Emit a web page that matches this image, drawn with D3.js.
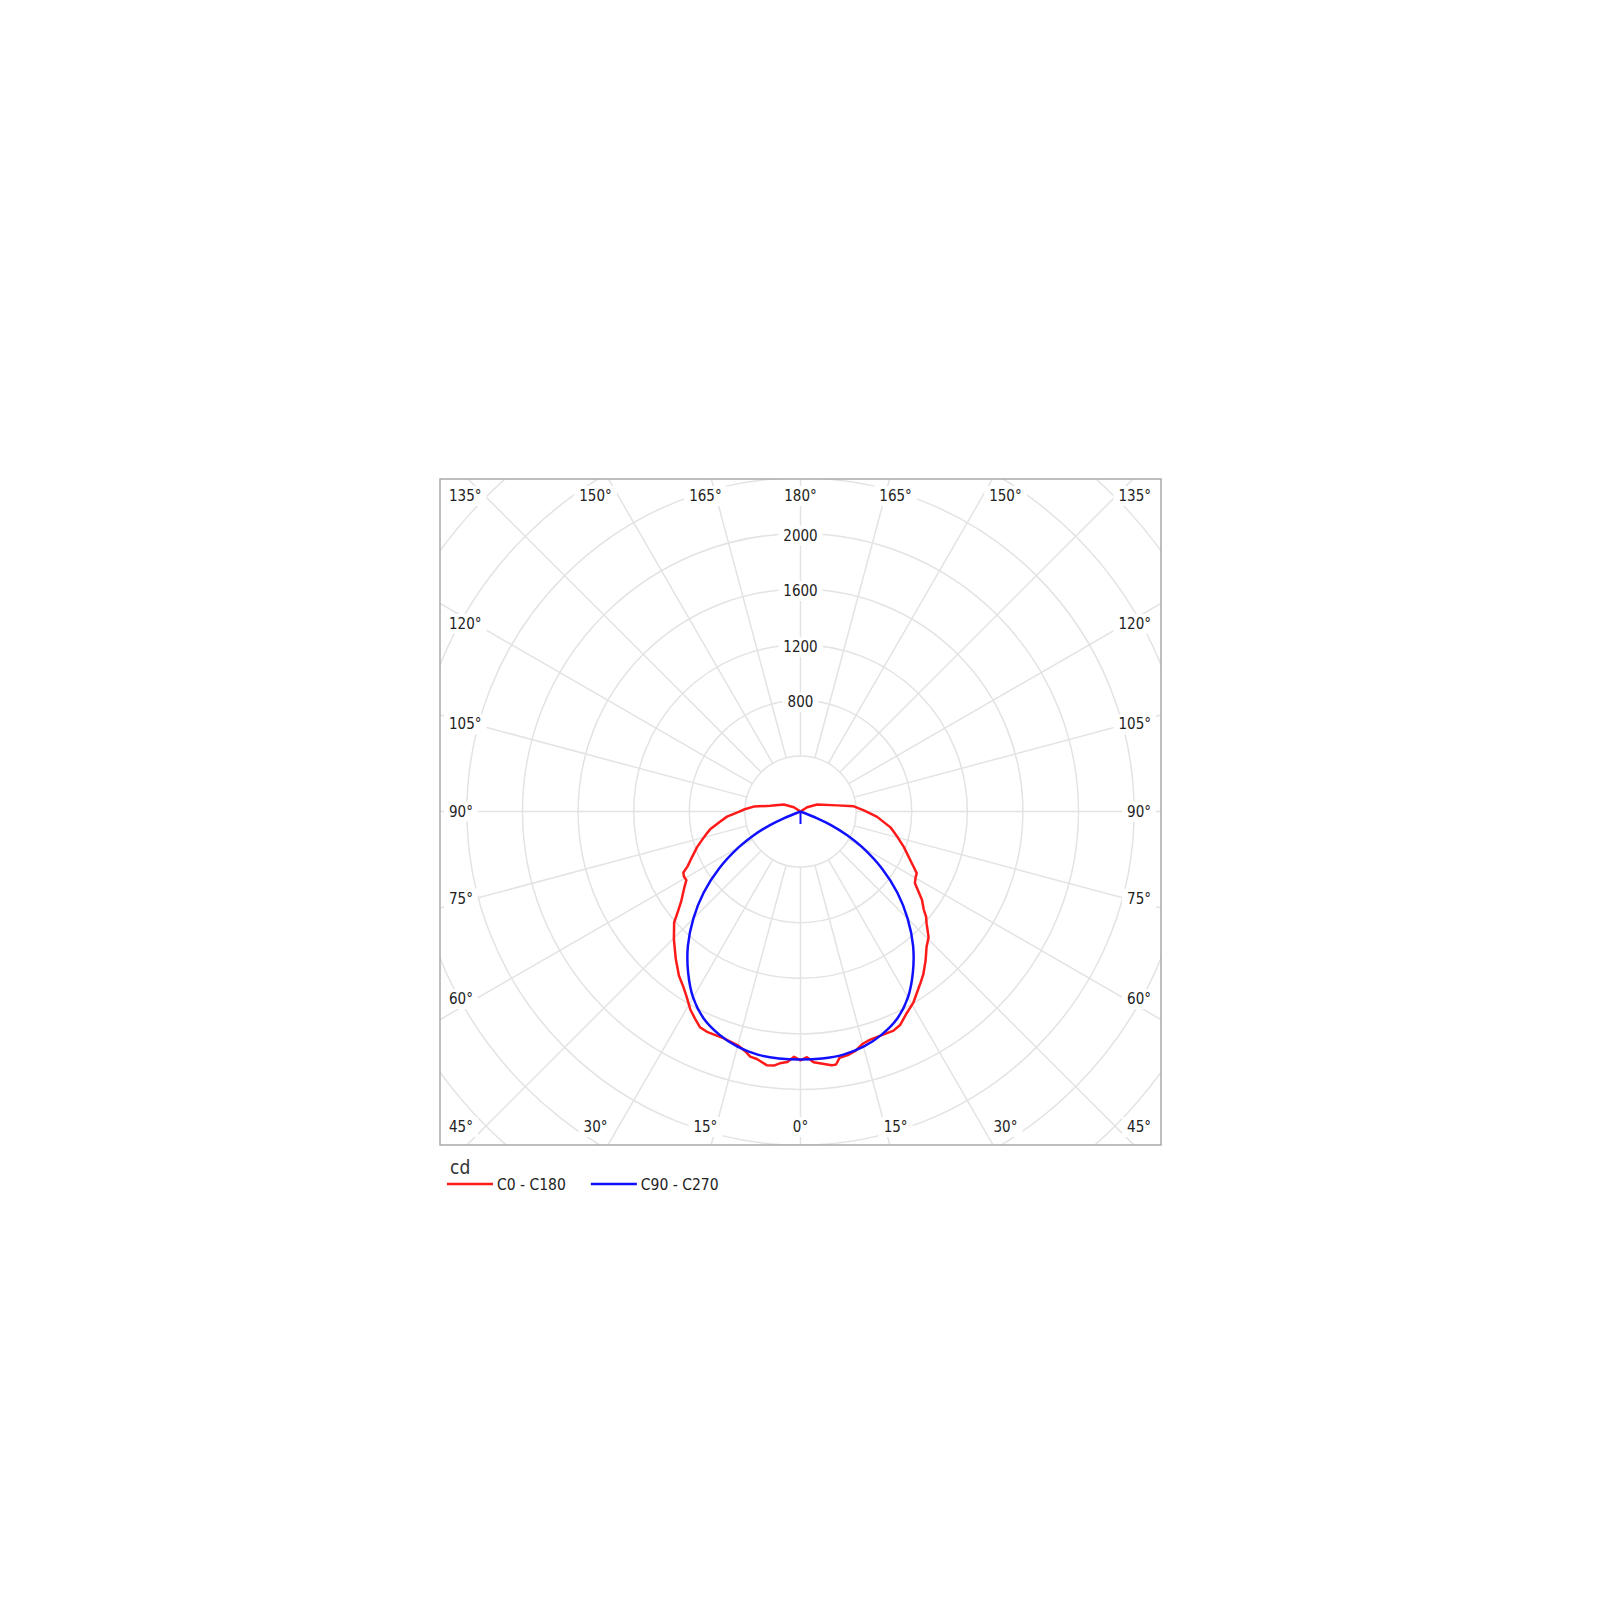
<!DOCTYPE html>
<html>
<head>
<meta charset="utf-8">
<script src="https://d3js.org/d3.v7.min.js"></script>
<style>
body { margin: 0; background: #fff; }
text { font-family: "DejaVu Sans Condensed", "DejaVu Sans", sans-serif; fill: #222; }
</style>
</head>
<body>
<svg id="ldc" width="1600" height="1600"></svg>
<script>
// grid values (cd) and angle labels (degrees from nadir)
var ringValues = [400, 800, 1200, 1600, 2000, 2400, 2800, 3200];
var ringLabels = [800, 1200, 1600, 2000];
var gammaTicks = [0, 15, 30, 45, 60, 75, 90, 105, 120, 135, 150, 165, 180];

// C0 half (right side)
var c0Gamma = [0, 1.5, 3, 5, 7, 8, 9, 11, 13, 15, 17, 21, 23, 25, 27.7, 30.5, 32.6, 35, 37, 40, 43, 45.5, 48.4, 50, 51.5, 54, 57.9, 60, 62, 63.5, 66, 71, 75, 80, 86, 91, 95.5, 99.5, 113, 123, 126];
var c0Cd = [1790, 1768, 1806, 1822, 1840, 1838, 1795, 1785, 1765, 1730, 1716, 1712, 1713, 1695, 1641, 1598, 1552, 1505, 1468, 1400, 1330, 1292, 1213, 1180, 1133, 1080, 972, 955, 947, 915, 866, 787, 725, 657, 553, 456, 385, 267, 130, 57, 0];

// C180 half (left side)
var c180Gamma = [0, 1.5, 3, 4.7, 6, 7.6, 10, 11.6, 13, 15, 18.8, 23, 25, 27, 29.1, 31.6, 33.8, 36.5, 40.2, 44.7, 48.7, 51.1, 53, 57, 59, 61, 62.5, 64, 67.3, 71, 75, 77, 79, 82.8, 86, 89.8, 92, 96, 101, 113, 123, 126];
var c180Cd = [1790, 1765, 1805, 1818, 1838, 1841, 1808, 1800, 1770, 1741, 1722, 1722, 1712, 1672, 1630, 1564, 1516, 1470, 1390, 1295, 1210, 1129, 1075, 995, 958, 960, 950, 905, 845, 787, 720, 690, 660, 584, 530, 440, 408, 338, 220, 130, 57, 0];

// C90 / C270 halves
var c90Gamma = [0, 5, 10, 15, 20, 25, 30, 35, 40, 45, 50, 55, 60, 63, 66, 68, 70];
var c90Cd = [1785, 1784, 1776, 1752, 1708, 1645, 1545, 1410, 1260, 1090, 910, 715, 510, 380, 240, 130, 0];
var c270Gamma = [0, 5, 10, 15, 20, 25, 30, 35, 40, 45, 50, 55, 60, 63, 66, 68, 70];
var c270Cd = [1785, 1784, 1776, 1752, 1708, 1645, 1545, 1410, 1260, 1090, 910, 715, 510, 380, 240, 130, 0];
// short stem the plot draws at the centre for C90 - C270
var stemGamma = [0, 0];
var stemCd = [0, 90];

var legendNames = ['C0 - C180', 'C90 - C270'];
var legendColors = ['#ff1a1a', '#1010ff'];
var unitLabel = 'cd';

// layout
var svg = d3.select('#ldc');
var frame = {x0: 440, y0: 479, x1: 1161, y1: 1145};
var cx = (frame.x0 + frame.x1) / 2;
var cy = (frame.y0 + frame.y1) / 2 - 0.5;
var rScale = d3.scaleLinear().domain([0, 2000]).range([0, 278]);
var rad = Math.PI / 180;
var gridColor = '#e3e3e3';

svg.append('defs').append('clipPath').attr('id', 'frameClip')
    .append('rect')
    .attr('x', frame.x0).attr('y', frame.y0)
    .attr('width', frame.x1 - frame.x0).attr('height', frame.y1 - frame.y0);

var gridClip = svg.append('g').attr('clip-path', 'url(#frameClip)')
    .append('g').attr('transform', `translate(${cx},${cy})`);

// rings
gridClip.selectAll('.ring')
    .data(ringValues)
    .join('circle')
    .classed('ring', true)
    .attr('r', d => rScale(d))
    .attr('fill', 'none')
    .attr('stroke', gridColor)
    .attr('stroke-width', 1.5);

// spokes every 15 deg, both halves, starting at the first ring
var spokes = [];
gammaTicks.forEach(g => {
    spokes.push(g);
    if (g > 0 && g < 180) spokes.push(-g);
});
gridClip.selectAll('.spoke')
    .data(spokes)
    .join('line')
    .classed('spoke', true)
    .attr('x1', d => rScale(ringValues[0]) * Math.sin(d * rad))
    .attr('y1', d => rScale(ringValues[0]) * Math.cos(d * rad))
    .attr('x2', d => rScale(4000) * Math.sin(d * rad))
    .attr('y2', d => rScale(4000) * Math.cos(d * rad))
    .attr('stroke', gridColor)
    .attr('stroke-width', 1.5);

// label with white box behind it
function boxedLabel(parent, x, y, txt, anchor, size) {
    var g = parent.append('g');
    var t = g.append('text')
        .attr('x', x).attr('y', y)
        .attr('text-anchor', anchor)
        .attr('dominant-baseline', 'central')
        .style('font-size', size + 'px')
        .text(txt);
    var bb = t.node().getBBox();
    g.insert('rect', 'text')
        .attr('x', bb.x - 5).attr('y', bb.y - 1)
        .attr('width', bb.width + 10).attr('height', bb.height + 2)
        .attr('fill', '#fff');
}

// ring value labels up the 180 deg spoke
var labels = svg.append('g');
ringLabels.forEach(v => {
    boxedLabel(labels, cx, cy - rScale(v) + 2, v, 'middle', 15);
});

// angle labels around the frame
var rowTop = frame.y0 + 17, rowBottom = frame.y1 - 18;
var colLeft = frame.x0 + 9, colRight = frame.x1 - 10;
var hw = 325, hh = 355;
gammaTicks.forEach(g => {
    var sides = (g === 0 || g === 180) ? [1] : [-1, 1];
    sides.forEach(s => {
        var dx = s * Math.sin(g * rad), dy = Math.cos(g * rad);
        var x, y, anchor = 'middle';
        if (g === 45 || g === 135) {
            y = g === 45 ? rowBottom : rowTop;
            x = s < 0 ? colLeft : colRight;
            anchor = s < 0 ? 'start' : 'end';
        } else {
            var tx = Math.abs(dx) > 1e-9 ? hw / Math.abs(dx) : Infinity;
            var ty = Math.abs(dy) > 1e-9 ? hh / Math.abs(dy) : Infinity;
            if (tx < ty) {
                y = cy + dy * tx;
                x = s < 0 ? colLeft : colRight;
                anchor = s < 0 ? 'start' : 'end';
            } else {
                x = cx + dx * ty;
                y = dy < 0 ? rowTop : rowBottom;
            }
        }
        boxedLabel(labels, x, y, g + '\u00b0', anchor, 15);
    });
});

// curves
function halves(leftG, leftV, rightG, rightV) {
    var pts = [];
    for (var i = leftG.length - 1; i >= 0; i--) pts.push([Math.PI + leftG[i] * rad, leftV[i]]);
    for (var j = 1; j < rightG.length; j++) pts.push([Math.PI - rightG[j] * rad, rightV[j]]);
    return pts;
}

var curves = svg.append('g').attr('transform', `translate(${cx},${cy})`);

curves.append('path')
    .datum(halves(c180Gamma, c180Cd, c0Gamma, c0Cd))
    .attr('d', d3.lineRadial().angle(d => d[0]).radius(d => rScale(d[1])))
    .attr('fill', 'none')
    .attr('stroke', legendColors[0])
    .attr('stroke-width', 2.5)
    .attr('stroke-linejoin', 'round');

curves.append('path')
    .datum(halves(c270Gamma, c270Cd, c90Gamma, c90Cd))
    .attr('d', d3.lineRadial().angle(d => d[0]).radius(d => rScale(d[1])).curve(d3.curveCatmullRom))
    .attr('fill', 'none')
    .attr('stroke', legendColors[1])
    .attr('stroke-width', 2.5);

curves.append('path')
    .datum(stemGamma.map((g, i) => [Math.PI - g * rad, stemCd[i]]))
    .attr('d', d3.lineRadial().angle(d => d[0]).radius(d => rScale(d[1])))
    .attr('fill', 'none')
    .attr('stroke', legendColors[1])
    .attr('stroke-width', 2);

// frame
svg.append('rect')
    .attr('x', frame.x0).attr('y', frame.y0)
    .attr('width', frame.x1 - frame.x0).attr('height', frame.y1 - frame.y0)
    .attr('fill', 'none')
    .attr('stroke', '#a9a9a9')
    .attr('stroke-width', 1.5);

// legend
var legend = svg.append('g');
legend.append('text')
    .attr('x', frame.x0 + 10).attr('y', frame.y1 + 22)
    .attr('dominant-baseline', 'central')
    .style('font-size', '19px')
    .style('fill', '#333')
    .text(unitLabel);

var lx = frame.x0 + 7, ly = frame.y1 + 39;
legendNames.forEach((name, i) => {
    legend.append('line')
        .attr('x1', lx).attr('x2', lx + 46)
        .attr('y1', ly).attr('y2', ly)
        .attr('stroke', legendColors[i])
        .attr('stroke-width', 2.5);
    var t = legend.append('text')
        .attr('x', lx + 50).attr('y', ly + 1)
        .attr('dominant-baseline', 'central')
        .style('font-size', '15.5px')
        .text(name);
    lx = lx + 50 + t.node().getComputedTextLength() + 25;
});
</script>
</body>
</html>
